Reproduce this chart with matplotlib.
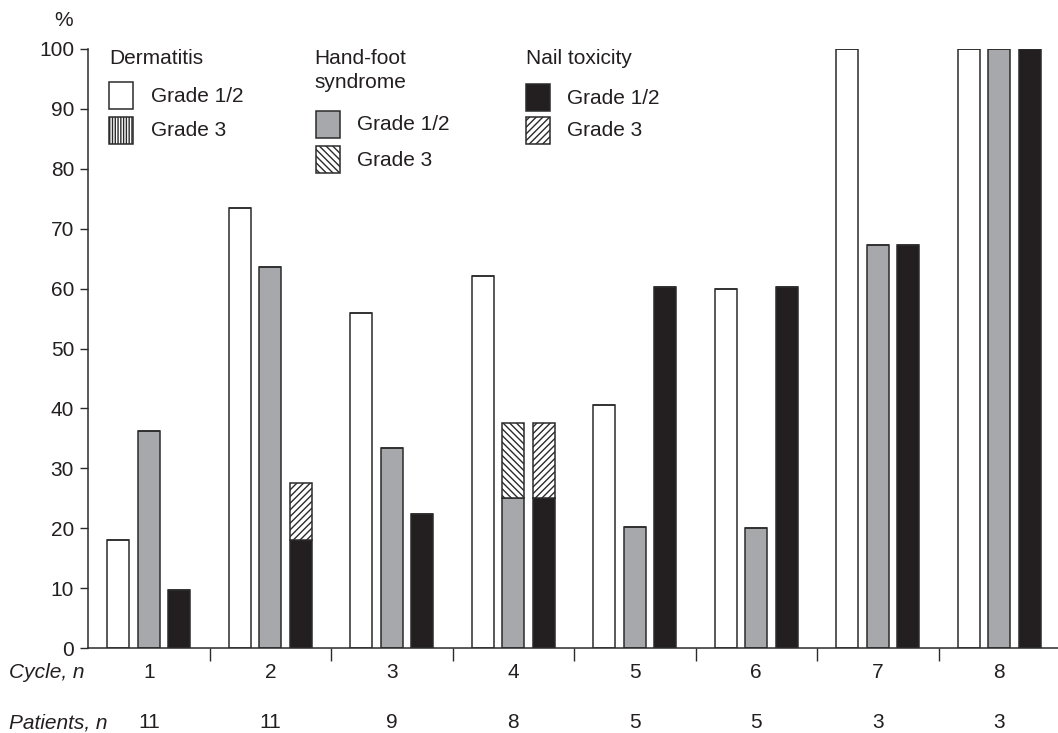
import matplotlib
matplotlib.use('Agg')
import matplotlib.pyplot as plt
from matplotlib.patches import Rectangle
import numpy as np

plt.rcParams['font.family'] = ['Liberation Sans', 'DejaVu Sans']
plt.rcParams['hatch.linewidth'] = 1.0

cycles = ['1', '2', '3', '4', '5', '6', '7', '8']
patients = ['11', '11', '9', '8', '5', '5', '3', '3']

# % of patients per cycle
derm_g12 = [18.0, 73.4, 55.9, 62.1, 40.5, 60.0, 100, 100]
derm_g3 = [0, 0, 0, 0, 0, 0, 0, 0]
hfs_g12 = [36.2, 63.6, 33.4, 25.0, 20.2, 20.1, 67.3, 100]
hfs_g3 = [0, 0, 0, 12.5, 0, 0, 0, 0]
nail_g12 = [9.6, 18.0, 22.4, 25.0, 60.2, 60.2, 67.3, 100]
nail_g3 = [0, 9.6, 0, 12.5, 0, 0, 0, 0]

GRAY = '#a7a8ab'
BLACK = '#231f20'
EDGE = '#2b2b2b'
TXT = '#231f20'
FS = 15
H_DERM = '||||||'
H_HFS = '\\\\\\\\\\'
H_NAIL = '/////'

W, H = 1058, 733
fig = plt.figure(figsize=(W / 100, H / 100), dpi=100)
ax = fig.add_axes([88 / W, 85 / H, 972 / W, 599 / H])

x = np.arange(len(cycles))
bw = 0.18
off = 0.25

ax.bar(x - off, derm_g12, bw, color='white', edgecolor=EDGE, linewidth=1.1)
ax.bar(x - off, derm_g3, bw, bottom=derm_g12, color='white', edgecolor=EDGE,
       linewidth=1.1, hatch=H_DERM)
ax.bar(x, hfs_g12, bw, color=GRAY, edgecolor=EDGE, linewidth=1.1)
ax.bar(x, hfs_g3, bw, bottom=hfs_g12, color='white', edgecolor=EDGE,
       linewidth=1.1, hatch=H_HFS)
ax.bar(x + off, nail_g12, bw, color=BLACK, edgecolor=EDGE, linewidth=1.1)
ax.bar(x + off, nail_g3, bw, bottom=nail_g12, color='white', edgecolor=EDGE,
       linewidth=1.1, hatch=H_NAIL)

ax.set_xlim(-0.5, 7.5)
ax.set_ylim(0, 100)
ax.set_yticks(np.arange(0, 101, 10))
ax.tick_params(axis='y', direction='out', length=6, width=1, labelsize=FS,
               colors=EDGE, labelcolor=TXT, pad=4)
ax.set_xticks(x)
ax.set_xticklabels([])
ax.tick_params(axis='x', which='major', length=0)
ax.set_xticks(x[:-1] + 0.5, minor=True)
ax.tick_params(axis='x', which='minor', direction='out', length=9, width=1,
               colors=EDGE)
for s in ['top', 'right']:
    ax.spines[s].set_visible(False)
for s in ['left', 'bottom']:
    ax.spines[s].set_color(EDGE)
    ax.spines[s].set_linewidth(1.1)
ax.spines['bottom'].set_clip_on(False)

tr = ax.get_xaxis_transform()
for i in range(len(cycles)):
    ax.text(x[i], -25 / 599, cycles[i], transform=tr, ha='center',
            va='center', fontsize=FS, color=TXT)
    ax.text(x[i], -75 / 599, patients[i], transform=tr, ha='center',
            va='center', fontsize=FS, color=TXT)

# overlay in pixel coords for labels and legend
ov = fig.add_axes([0, 0, 1, 1])
ov.set_xlim(0, W)
ov.set_ylim(H, 0)
ov.axis('off')
ov.patch.set_alpha(0)

ov.text(9, 673, 'Cycle, n', fontsize=FS, style='italic', va='center', color=TXT)
ov.text(9, 723, 'Patients, n', fontsize=FS, style='italic', va='center', color=TXT)
ov.text(64, 20, '%', fontsize=FS, ha='center', va='center', color=TXT)


def leg_box(x0, y0, fc, hatch=None):
    ov.add_patch(Rectangle((x0, y0), 24, 27, facecolor=fc, edgecolor=EDGE,
                           linewidth=1.1, hatch=hatch))


ov.text(109, 59, 'Dermatitis', fontsize=FS, va='center', color=TXT)
leg_box(109, 82, 'white')
ov.text(151, 96, 'Grade 1/2', fontsize=FS, va='center', color=TXT)
leg_box(109, 117, 'white', H_DERM)
ov.text(151, 131, 'Grade 3', fontsize=FS, va='center', color=TXT)

ov.text(314, 59, 'Hand-foot', fontsize=FS, va='center', color=TXT)
ov.text(314, 82, 'syndrome', fontsize=FS, va='center', color=TXT)
leg_box(316, 111, GRAY)
ov.text(357, 125, 'Grade 1/2', fontsize=FS, va='center', color=TXT)
leg_box(316, 146, 'white', H_HFS)
ov.text(357, 160, 'Grade 3', fontsize=FS, va='center', color=TXT)

ov.text(526, 59, 'Nail toxicity', fontsize=FS, va='center', color=TXT)
leg_box(526, 84, BLACK)
ov.text(567, 98, 'Grade 1/2', fontsize=FS, va='center', color=TXT)
leg_box(526, 117, 'white', H_NAIL)
ov.text(567, 131, 'Grade 3', fontsize=FS, va='center', color=TXT)

fig.savefig('out.png', dpi=100)
